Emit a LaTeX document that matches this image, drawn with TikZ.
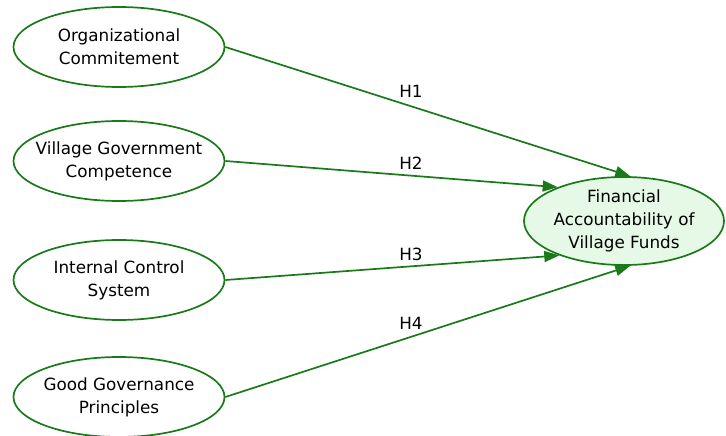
\documentclass[tikz,border=0pt]{standalone}
\usepackage{fontspec}
\setmainfont{DejaVu Sans}
\usetikzlibrary{shapes.geometric,arrows.meta}
\definecolor{edge}{RGB}{26,122,26}
\definecolor{lightfill}{RGB}{230,249,230}
\begin{document}
\begin{tikzpicture}[x=1pt,y=-1pt,
  every node/.style={font=\fontsize{16.8}{23}\selectfont},
  construct/.style={ellipse, draw=edge, line width=1.7pt, fill=white, minimum width=211pt, minimum height=80pt, inner xsep=-10pt, inner ysep=0pt, align=center},
  target/.style={construct, fill=lightfill, minimum width=200pt, minimum height=82pt},
  link/.style={draw=edge, line width=1.7pt, -{Triangle[length=15pt,width=11pt]}},
  hyp/.style={inner sep=0pt}]
\useasboundingbox (0,0) rectangle (726,436);
\node[construct] (oc) at (119,47) {Organizational\\Commitement};
\node[construct] (vg) at (119,161) {Village Government\\Competence};
\node[construct] (ic) at (119,280) {Internal Control\\System};
\node[construct] (gg) at (119,397) {Good Governance\\Principles};
\node[target] (fa) at (624,221) {Financial\\Accountability of\\Village Funds};
\draw[link] (oc.east) -- (fa.82);
\draw[link] (vg.east) -- (fa.153);
\draw[link] (ic.east) -- (fa.208);
\draw[link] (gg.east) -- (fa.278);
\node[hyp] (h1) at (411,91) {H1};
\node[hyp] (h2) at (411,163) {H2};
\node[hyp] (h3) at (411,254) {H3};
\node[hyp] (h4) at (411,323) {H4};
\end{tikzpicture}
\end{document}
